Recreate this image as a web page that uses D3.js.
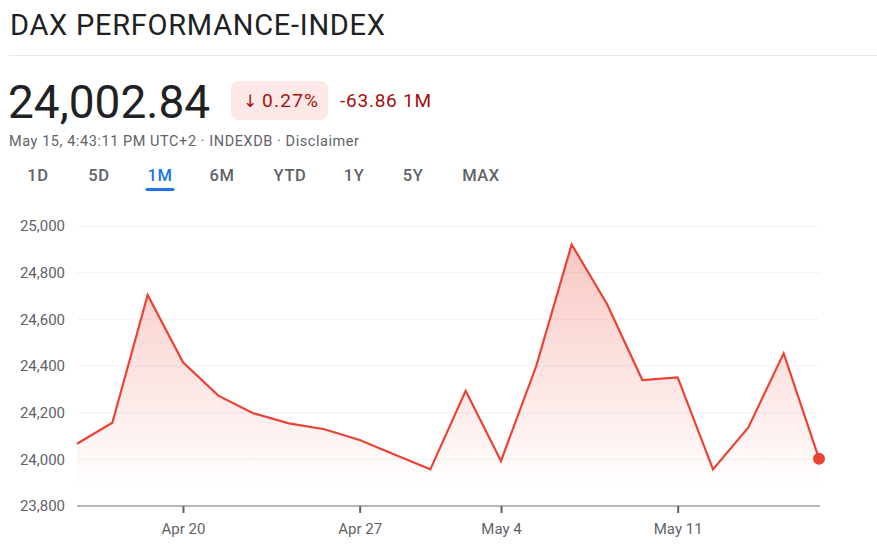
<!DOCTYPE html>
<html>
<head>
<meta charset="utf-8">
<script src="https://cdn.jsdelivr.net/npm/d3@7"></script>
<style>
  html, body { margin: 0; padding: 0; background: #fff; }
  svg { display: block; font-family: Roboto, "Noto Sans", sans-serif; }
</style>
</head>
<body>
<svg id="chart" width="877" height="545"></svg>
<script>
// trading days shown on the 1M view
var dates = ["Apr 15", "Apr 16", "Apr 17", "Apr 20", "Apr 21", "Apr 22", "Apr 23", "Apr 24",
  "Apr 27", "Apr 28", "Apr 29", "Apr 30", "May 4", "May 5", "May 6", "May 7", "May 8",
  "May 11", "May 12", "May 13", "May 14", "May 15"];
var closes = [24066.7, 24157, 24704, 24416, 24273, 24197, 24154, 24129,
  24083, 24020, 23957, 24294, 23993, 24401, 24921, 24666, 24340,
  24351, 23957, 24137, 24454, 24002.84];
var xTickLabels = ["Apr 20", "Apr 27", "May 4", "May 11"];
var yTickValues = [23800, 24000, 24200, 24400, 24600, 24800, 25000];
var ranges = ["1D", "5D", "1M", "6M", "YTD", "1Y", "5Y", "MAX"];
var rangeX = [38, 99, 160, 222, 290, 354, 413, 481];

var svg = d3.select('#chart');
var red = '#ea4335';

// header (letter spacing stretched a bit, the original face is wider than Roboto)
svg.append('text').attr('x', 10).attr('y', 35)
  .attr('font-size', 29).attr('fill', '#202124')
  .attr('textLength', 375).attr('lengthAdjust', 'spacing')
  .text('DAX PERFORMANCE-INDEX');
svg.append('line').attr('x1', 9).attr('x2', 877).attr('y1', 55.5).attr('y2', 55.5)
  .attr('stroke', '#e8eaed').attr('stroke-width', 1);

svg.append('text').attr('x', 8).attr('y', 118)
  .attr('font-size', 46).attr('fill', '#202124')
  .text('24,002.84');

// change badge
svg.append('rect').attr('x', 231).attr('y', 81).attr('width', 97).attr('height', 39)
  .attr('rx', 8).attr('fill', '#fce8e6');
svg.append('text').attr('x', 250).attr('y', 107)
  .attr('text-anchor', 'middle')
  .attr('font-family', '"DejaVu Sans", sans-serif')
  .attr('font-size', 17).attr('fill', '#a50e0e')
  .text('\u2193');
svg.append('text').attr('x', 262).attr('y', 107)
  .attr('font-size', 19).attr('fill', '#a50e0e')
  .attr('textLength', 56).attr('lengthAdjust', 'spacing')
  .text('0.27%');
svg.append('text').attr('x', 340).attr('y', 107)
  .attr('font-size', 19).attr('fill', '#a50e0e')
  .attr('textLength', 91).attr('lengthAdjust', 'spacing')
  .text('-63.86 1M');

svg.append('text').attr('x', 9).attr('y', 146)
  .attr('font-size', 14.5).attr('fill', '#5f6368')
  .attr('textLength', 350).attr('lengthAdjust', 'spacing')
  .text('May 15, 4:43:11 PM UTC+2 \u00b7 INDEXDB \u00b7 Disclaimer');

// range tabs
svg.selectAll('text.range').data(ranges).enter().append('text')
  .attr('class', 'range')
  .attr('x', function (d, i) { return rangeX[i]; })
  .attr('y', 181)
  .attr('text-anchor', 'middle')
  .attr('font-size', 16.5).attr('font-weight', 500)
  .attr('letter-spacing', 0.6)
  .attr('fill', function (d) { return d === '1M' ? '#1a73e8' : '#5f6368'; })
  .text(function (d) { return d; });
svg.append('line').attr('x1', 147).attr('x2', 173).attr('y1', 189.5).attr('y2', 189.5)
  .attr('stroke', '#1a73e8').attr('stroke-width', 3).attr('stroke-linecap', 'round');

// scales
var x = d3.scalePoint().domain(dates).range([77, 819]);
var y = d3.scaleLinear().domain([23800, 25000]).range([506, 226]);

// gridlines + y labels
var grid = svg.append('g');
grid.selectAll('line').data(yTickValues.slice(1)).enter().append('line')
  .attr('x1', 77).attr('x2', 819)
  .attr('y1', function (d) { return y(d); }).attr('y2', function (d) { return y(d); })
  .attr('stroke', '#f1f3f4').attr('stroke-width', 1);

var yAxis = d3.axisLeft(y).tickValues(yTickValues).tickFormat(d3.format(',')).tickSize(0).tickPadding(0);
var yg = svg.append('g').attr('transform', 'translate(65,0)').call(yAxis);
yg.select('.domain').remove();
yg.selectAll('text').attr('font-family', 'Roboto, sans-serif').attr('font-size', 15).attr('fill', '#5f6368');

// area fill
var defs = svg.append('defs');
var grad = defs.append('linearGradient').attr('id', 'fillGrad')
  .attr('gradientUnits', 'userSpaceOnUse')
  .attr('x1', 0).attr('x2', 0).attr('y1', y(25000)).attr('y2', y(23870));
grad.append('stop').attr('offset', 0).attr('stop-color', red).attr('stop-opacity', 0.32);
grad.append('stop').attr('offset', 1).attr('stop-color', red).attr('stop-opacity', 0);

var area = d3.area()
  .x(function (d, i) { return x(dates[i]); })
  .y0(y(23800))
  .y1(function (d) { return y(d); });
svg.append('path').datum(closes).attr('d', area).attr('fill', 'url(#fillGrad)');

// x axis
var xAxis = d3.axisBottom(x).tickValues(xTickLabels).tickSize(7).tickPadding(10);
var xg = svg.append('g').attr('transform', 'translate(0,506)').call(xAxis);
xg.select('.domain').attr('d', 'M77,0H820').attr('stroke', '#9aa0a6').attr('stroke-width', 1.5);
xg.selectAll('.tick line').attr('stroke', '#5f6368').attr('stroke-width', 2);
xg.selectAll('text').attr('font-family', 'Roboto, sans-serif').attr('font-size', 15).attr('fill', '#5f6368');

// price line
var line = d3.line()
  .x(function (d, i) { return x(dates[i]); })
  .y(function (d) { return y(d); });
svg.append('path').datum(closes).attr('d', line)
  .attr('fill', 'none').attr('stroke', red).attr('stroke-width', 2.2)
  .attr('stroke-linejoin', 'miter');

var last = closes.length - 1;
svg.append('circle').attr('cx', x(dates[last])).attr('cy', y(closes[last]))
  .attr('r', 6).attr('fill', red);
</script>
</body>
</html>
